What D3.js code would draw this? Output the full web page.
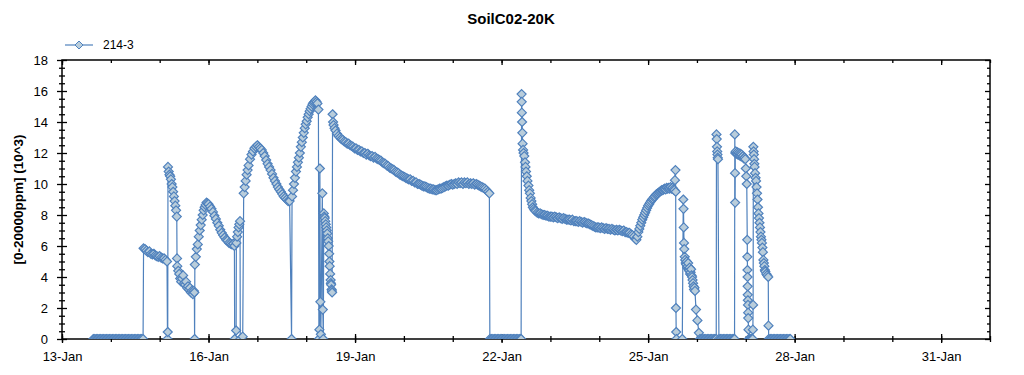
<!DOCTYPE html>
<html>
<head>
<meta charset="utf-8">
<script src="https://cdn.jsdelivr.net/npm/d3@7"></script>
<style>
  body { margin: 0; background: #fff; }
  svg { display: block; font-family: "Liberation Sans", Arial, sans-serif; }
</style>
</head>
<body>
<div id="chart"></div>
<script>
// readings as [days after 13-Jan 00:00, value in 10^3 ppm]
// runs where the sensor read zero, listed by time only
const jan13ZeroTimes = [0.64,0.67,0.70,0.73,0.76,0.79,0.82,0.85,0.88,0.91,0.94,0.97,1.00,1.03,1.06,1.09,1.12,1.15,1.18,1.21,1.24,1.27,1.30,1.33,1.36,1.39,1.42,1.45,1.48,1.51,1.54,1.57,1.60,1.63,1.66];

const jan14Run = [[1.67,5.85],[1.70,5.8],[1.73,5.7],[1.76,5.6],[1.79,5.65],[1.82,5.5],[1.85,5.45],[1.88,5.5],[1.91,5.4],[1.94,5.35],[1.97,5.3],[2.00,5.35],[2.03,5.25],[2.06,5.2],
  [2.09,5.2],[2.12,5.1],[2.15,5.0],[2.16,0],[2.165,0.45],
  [2.17,11.1],[2.185,10.8],[2.20,10.6],[2.215,10.5],[2.23,10.3],[2.245,10.0],[2.26,9.8],[2.275,9.5],[2.29,9.2],[2.305,8.9],[2.32,8.6],[2.335,8.3],[2.35,7.9],
  [2.355,5.2],[2.36,4.7],[2.38,4.4],[2.40,4.2],[2.42,3.9],[2.44,3.7],[2.46,3.9],[2.48,4.1],[2.50,3.6],[2.52,3.5],[2.54,3.7],[2.56,3.3],[2.58,3.4],[2.60,3.2],[2.62,3.3],
  [2.64,3.0],[2.66,3.1],[2.68,2.9],[2.70,3.1],[2.71,3.0],[2.715,0]];

const jan15Run = [[2.72,4.8],[2.74,5.3],[2.76,5.8],[2.78,6.1],[2.80,6.6],[2.82,7.0],[2.84,7.35],[2.86,7.7],[2.88,8.0],[2.90,8.3],[2.92,8.5],[2.94,8.65],[2.96,8.8],[2.98,8.75],
  [3.00,8.7],[3.03,8.55],[3.06,8.4],[3.09,8.2],[3.12,7.95],[3.15,7.75],[3.18,7.5],[3.21,7.3],[3.24,7.05],[3.27,6.85],[3.30,6.7],[3.33,6.55],[3.36,6.4],[3.39,6.35],[3.42,6.2],
  [3.45,6.15],[3.48,6.1],[3.51,6.15],[3.53,6.0],[3.535,0],[3.565,0.55],[3.57,6.2],[3.585,6.6],[3.60,6.9],[3.615,7.2],[3.63,7.4],[3.645,7.6],[3.65,0],[3.70,0.15],[3.72,9.4]];

const jan16Hump = [[3.74,9.8],[3.76,10.2],[3.78,10.6],[3.80,10.9],[3.82,11.2],[3.85,11.6],[3.88,11.9],[3.91,12.1],[3.94,12.3],[3.97,12.4],[4.00,12.5],[4.03,12.4],[4.06,12.3],
  [4.09,12.2],[4.12,12.0],[4.15,11.8],[4.18,11.55],[4.21,11.3],[4.24,11.1],[4.27,10.9],[4.30,10.65],[4.33,10.4],[4.36,10.2],[4.39,10.0],[4.42,9.8],[4.45,9.65],[4.48,9.5],
  [4.51,9.35],[4.54,9.2],[4.57,9.1],[4.60,9.0],[4.63,8.9],[4.66,8.9],[4.70,0],[4.71,9.2],[4.73,9.6],[4.75,10.0],[4.77,10.4],[4.79,10.8],[4.81,11.1],[4.83,11.4],[4.85,11.7],
  [4.87,12.0],[4.89,12.4],[4.91,12.7],[4.93,13.0],[4.95,13.3],[4.97,13.6],[4.99,13.85],[5.01,14.05],[5.03,14.3],[5.05,14.5],[5.07,14.7],[5.09,14.85],[5.11,15.0],[5.13,15.15],
  [5.15,15.25],[5.17,15.3],[5.19,15.4],[5.21,15.3],[5.23,15.2],[5.25,14.8]];

const jan18Drop = [[5.26,0],[5.27,0.6],[5.28,11.0],[5.29,2.4],[5.30,0.3],[5.33,9.4],[5.34,1.9],[5.35,0],[5.36,8.1],[5.37,7.9],[5.38,7.8],[5.39,7.6],[5.40,7.4],[5.41,7.2],
  [5.42,7.0],[5.43,6.8],[5.44,6.5],[5.45,6.3],[5.46,6.0],[5.47,5.5],[5.475,5.0],[5.48,4.7],[5.49,4.2],[5.50,3.8],[5.505,3.6],[5.51,3.5],[5.52,3.2],[5.525,3.1],[5.53,3.0]];

const jan18Decay = [[5.54,14.5],[5.55,14.0],[5.56,13.8],[5.58,13.6],[5.60,13.45],[5.63,13.25],[5.66,13.1],[5.69,13.0],[5.72,12.9],[5.75,12.85],[5.78,12.75],[5.81,12.7],
  [5.84,12.6],[5.87,12.6],[5.90,12.5],[5.93,12.45],[5.96,12.4],[5.99,12.3],[6.02,12.3],[6.05,12.2],[6.08,12.2],[6.11,12.1],[6.14,12.1],[6.17,12.0],[6.20,12.0],[6.23,11.9],
  [6.26,11.95],[6.29,11.85],[6.32,11.8],[6.35,11.8],[6.38,11.7],[6.41,11.75],[6.44,11.65],[6.47,11.6],[6.50,11.55],[6.53,11.5],[6.56,11.4],[6.59,11.35],[6.62,11.3],[6.65,11.2],
  [6.68,11.15],[6.71,11.05],[6.74,11.0],[6.77,10.95],[6.80,10.9],[6.83,10.8],[6.86,10.75],[6.89,10.7],[6.92,10.6],[6.95,10.55],[6.98,10.5],[7.01,10.45],[7.04,10.4],[7.07,10.35],
  [7.10,10.3],[7.13,10.3],[7.16,10.2],[7.19,10.2],[7.22,10.1],[7.25,10.1],[7.28,10.0],[7.31,10.0],[7.34,9.95],[7.37,9.9],[7.40,9.85],[7.43,9.85],[7.46,9.8],[7.49,9.75],
  [7.52,9.7],[7.55,9.7],[7.58,9.65],[7.61,9.65],[7.64,9.6],[7.67,9.6],[7.70,9.65],[7.73,9.7],[7.76,9.7],[7.79,9.75],[7.82,9.8],[7.85,9.85],[7.88,9.9],[7.91,9.9],[7.94,9.95],
  [7.97,10.0],[8.00,9.95],[8.03,10.0],[8.06,10.05],[8.09,10.0],[8.12,10.1],[8.15,10.05],[8.18,10.1],[8.21,10.0],[8.24,10.1],[8.27,10.05],[8.30,10.1],[8.33,10.0],[8.36,10.05],
  [8.39,10.0],[8.42,10.05],[8.45,9.95],[8.48,10.0],[8.51,9.95],[8.54,9.9],[8.57,9.85],[8.60,9.8],[8.63,9.75],[8.66,9.7],[8.69,9.6],[8.72,9.5],[8.75,9.4]];

const jan21ZeroTimes = [8.76,8.79,8.82,8.85,8.88,8.91,8.94,8.97,9.00,9.03,9.06,9.09,9.12,9.15,9.18,9.21,9.24,9.27,9.30,9.33,9.36,9.39,9.40];

const jan22Decay = [[9.41,15.8],[9.412,15.3],[9.415,14.6],[9.42,14.0],[9.425,13.3],[9.43,12.6],[9.44,12.2],[9.45,12.0],[9.465,11.8],[9.48,11.4],[9.49,11.1],[9.50,10.8],
  [9.515,10.5],[9.53,10.2],[9.55,9.9],[9.565,9.6],[9.58,9.4],[9.595,9.1],[9.61,8.9],[9.625,8.7],[9.64,8.5],[9.66,8.4],[9.68,8.3],[9.70,8.25],[9.73,8.15],[9.76,8.1],[9.79,8.1],
  [9.82,8.05],[9.85,8.0],[9.88,8.0],[9.91,7.95],[9.94,7.95],[9.97,7.9],[10.00,7.9],[10.03,7.9],[10.06,7.85],[10.09,7.9],[10.12,7.85],[10.15,7.8],[10.18,7.85],[10.21,7.8],
  [10.24,7.75],[10.27,7.8],[10.30,7.75],[10.33,7.7],[10.36,7.7],[10.39,7.7],[10.42,7.65],[10.45,7.7],[10.48,7.6],[10.51,7.6],[10.54,7.6],[10.57,7.55],[10.60,7.6],[10.63,7.55],
  [10.66,7.5],[10.69,7.55],[10.72,7.5],[10.75,7.45],[10.78,7.45],[10.81,7.4],[10.84,7.35],[10.87,7.3],[10.90,7.25],[10.93,7.2],[10.96,7.2],[10.99,7.2],[11.02,7.15],[11.05,7.2],
  [11.08,7.15],[11.11,7.1],[11.14,7.15],[11.17,7.1],[11.20,7.1],[11.23,7.05],[11.26,7.1],[11.29,7.05],[11.32,7.0],[11.35,7.05],[11.38,7.0],[11.41,7.05],[11.44,7.0],[11.47,6.95],
  [11.50,7.0],[11.53,6.9],[11.56,6.9],[11.59,6.85],[11.62,6.85],[11.65,6.75],[11.68,6.7],[11.71,6.6],[11.74,6.45],[11.76,6.4],[11.78,6.6],[11.80,6.9],[11.82,7.1],[11.84,7.3],
  [11.86,7.5],[11.88,7.7],[11.90,7.85],[11.92,8.0],[11.94,8.15],[11.96,8.3],[11.98,8.45],[12.00,8.6],[12.02,8.7],[12.04,8.8],[12.06,8.9],[12.08,9.0],[12.10,9.05],[12.12,9.15],
  [12.14,9.2],[12.16,9.3],[12.18,9.35],[12.20,9.4],[12.22,9.45],[12.24,9.5],[12.26,9.55],[12.28,9.6],[12.30,9.6],[12.32,9.65],[12.34,9.7],[12.36,9.65],[12.38,9.75],[12.40,9.7],
  [12.42,9.75],[12.44,9.7],[12.46,9.8],[12.48,9.7],[12.50,9.75],[12.52,9.65],[12.54,9.6]];

const jan25Drop = [[12.55,10.25],[12.56,10.9],[12.565,9.5],[12.57,2.0],[12.575,0.45],[12.58,0],[12.70,0],[12.72,9.0],[12.725,8.4],[12.73,7.2],[12.735,6.2],[12.74,5.8],
  [12.75,5.3],[12.76,5.1],[12.77,4.9],[12.78,4.8],[12.79,5.0],[12.80,4.6],[12.81,4.7],[12.82,4.9],[12.83,4.5],[12.84,4.4],[12.85,4.6],[12.86,4.2],[12.87,4.3],[12.88,4.5],
  [12.89,4.1],[12.90,4.0],[12.91,3.8],[12.92,3.6],[12.93,3.4],[12.94,3.2],[12.95,3.3],[12.96,3.1],[12.98,1.9],[13.01,1.2],[13.04,0.4],[13.06,0]];

const jan26Spikes = [[13.09,0],[13.12,0],[13.15,0],[13.18,0],[13.21,0],[13.24,0],[13.27,0],[13.30,0],[13.33,0],[13.36,0],[13.39,0],[13.395,0],
  [13.40,13.2],[13.405,12.9],[13.41,12.4],[13.415,12.1],[13.42,11.9],[13.425,11.7],[13.43,11.6],
  [13.45,0],[13.48,0],[13.51,0],[13.54,0],[13.57,0],[13.60,0],[13.63,0],[13.66,0],[13.69,0],[13.72,0],[13.75,0],[13.77,0],
  [13.775,13.2],[13.78,10.7],[13.782,8.8],[13.785,12.0],[13.795,12.1],[13.81,11.95],[13.825,12.05],[13.84,11.9],[13.855,12.0],[13.87,11.85],[13.885,11.95],[13.90,11.8],
  [13.915,11.9],[13.93,11.75],[13.945,11.8],[13.96,11.65],[13.975,11.7],[13.99,11.6],[14.00,11.0],[14.01,10.5],[14.02,10.0],
  [14.03,6.4],[14.032,5.3],[14.034,4.45],[14.036,4.0],[14.038,3.4],[14.04,2.85],[14.042,2.5],[14.045,2.2],[14.048,1.7],[14.05,1.35],[14.055,0.6],
  [14.06,0],[14.08,0],[14.10,0],[14.12,0],[14.14,0],[14.145,0.6],[14.15,2.2],
  [14.155,12.4],[14.16,12.1],[14.165,11.9],[14.17,11.6],[14.175,11.3],[14.18,11.1],[14.19,10.7],[14.20,10.4],[14.21,10.2],[14.22,9.8],[14.23,9.4],[14.24,9.0],[14.25,8.5],
  [14.26,8.1],[14.27,7.8],[14.28,7.5],[14.29,7.2],[14.30,6.9],[14.31,6.6],[14.32,6.4],[14.33,6.2],[14.34,5.9],[14.35,5.6],[14.36,5.1],[14.37,4.9],[14.38,4.7],[14.39,4.45],
  [14.40,4.35],[14.42,4.2],[14.44,4.1],[14.46,4.0],[14.465,0.86],[14.47,0]];

const jan27ZeroTimes = [14.50,14.53,14.56,14.59,14.62,14.65,14.68,14.71,14.74,14.77,14.80,14.83,14.86,14.89,14.91];

const yTicks = [0, 2, 4, 6, 8, 10, 12, 14, 16, 18];
const seriesName = "214-3";
const chartTitle = "SoilC02-20K";
const yLabel = "[0-20000ppm] (10^3)";

const width = 1024, height = 375;
const plotLeft = 62, plotRight = 990, plotTop = 60, plotBottom = 339;
const blue = "#4f81bd", markFill = "#b9cddb";

const start = new Date(2015, 0, 13);
const end = new Date(2015, 1, 1);
const toDate = d => new Date(start.getTime() + d * 864e5);
const zeros = times => times.map(t => [t, 0]);

const points = [].concat(zeros(jan13ZeroTimes), jan14Run, jan15Run, jan16Hump, jan18Drop, jan18Decay,
  zeros(jan21ZeroTimes), jan22Decay, jan25Drop, jan26Spikes, zeros(jan27ZeroTimes))
  .map(p => ({date: toDate(p[0]), value: p[1]}));

const svg = d3.select("#chart").append("svg")
  .attr("width", width).attr("height", height);

const x = d3.scaleTime().domain([start, end]).range([plotLeft, plotRight]);
const y = d3.scaleLinear().domain([0, 18]).range([plotBottom, plotTop]);

// title
svg.append("text")
  .attr("x", 511).attr("y", 24)
  .attr("text-anchor", "middle")
  .style("font-size", "15px").style("font-weight", "bold")
  .text(chartTitle);

// y axis label
svg.append("text")
  .attr("transform", `translate(23, ${(plotTop + plotBottom) / 2}) rotate(-90)`)
  .attr("text-anchor", "middle")
  .style("font-size", "13.5px").style("font-weight", "bold")
  .text(yLabel);

// major ticks every third day, last one on 31-Jan
const majorDays = d3.timeDay.every(3).range(start, end);
const minorDays = d3.timeDay.range(start, d3.timeDay.offset(end, 1));
const minorY = d3.range(0, 18.01, 0.5).filter(v => v % 2 !== 0);
const fmt = d3.timeFormat("%-d-%b");

function styleAxis(g) {
  g.select(".domain").remove();
  g.selectAll(".tick line").attr("stroke", "#000").attr("stroke-width", 1.3);
  g.selectAll("text").attr("fill", "#000").style("font-size", "13px");
}

// bottom axis: major and minor ticks crossing the line
svg.append("g").attr("transform", `translate(0, ${plotBottom})`)
  .call(d3.axisBottom(x).tickValues(minorDays).tickFormat(""))
  .call(styleAxis)
  .call(g => g.selectAll(".tick line").attr("y1", -3).attr("y2", 3));
svg.append("g").attr("transform", `translate(0, ${plotBottom})`)
  .call(d3.axisBottom(x).tickValues(majorDays).tickFormat(fmt).tickSize(4).tickPadding(9))
  .call(styleAxis)
  .call(g => g.selectAll(".tick line").attr("y1", -5).attr("y2", 4));

// top axis, ticks inside
svg.append("g").attr("transform", `translate(0, ${plotTop})`)
  .call(d3.axisTop(x).tickValues(minorDays).tickFormat("").tickSize(-3))
  .call(styleAxis);
svg.append("g").attr("transform", `translate(0, ${plotTop})`)
  .call(d3.axisTop(x).tickValues(majorDays).tickFormat("").tickSize(-5))
  .call(styleAxis);

// left axis
svg.append("g").attr("transform", `translate(${plotLeft}, 0)`)
  .call(d3.axisLeft(y).tickValues(minorY).tickFormat(""))
  .call(styleAxis)
  .call(g => g.selectAll(".tick line").attr("x1", 3).attr("x2", -3));
svg.append("g").attr("transform", `translate(${plotLeft}, 0)`)
  .call(d3.axisLeft(y).tickValues(yTicks).tickFormat(d3.format("d")).tickSize(5).tickPadding(9))
  .call(styleAxis)
  .call(g => g.selectAll(".tick line").attr("x1", 5).attr("x2", -5));

// right axis, ticks inside
svg.append("g").attr("transform", `translate(${plotRight}, 0)`)
  .call(d3.axisRight(y).tickValues(minorY).tickFormat("").tickSize(-3))
  .call(styleAxis);
svg.append("g").attr("transform", `translate(${plotRight}, 0)`)
  .call(d3.axisRight(y).tickValues(yTicks).tickFormat("").tickSize(-5))
  .call(styleAxis);

// frame
svg.append("rect")
  .attr("x", plotLeft).attr("y", plotTop)
  .attr("width", plotRight - plotLeft).attr("height", plotBottom - plotTop)
  .attr("fill", "none").attr("stroke", "#000").attr("stroke-width", 1.5);

svg.append("clipPath").attr("id", "plot-clip")
  .append("rect").attr("x", plotLeft).attr("y", plotTop - 8)
  .attr("width", plotRight - plotLeft).attr("height", plotBottom - plotTop + 8);

const plot = svg.append("g").attr("clip-path", "url(#plot-clip)");

const line = d3.line().x(d => x(d.date)).y(d => y(d.value));

plot.append("path")
  .datum(points)
  .attr("fill", "none")
  .attr("stroke", blue)
  .attr("stroke-width", 1.2)
  .attr("d", line);

const diamond = "M0,-4.5L4.5,0L0,4.5L-4.5,0Z";

plot.selectAll(".dot")
  .data(points)
  .enter()
  .append("path")
  .attr("class", "dot")
  .attr("d", diamond)
  .attr("transform", d => `translate(${x(d.date)}, ${y(d.value)})`)
  .attr("fill", markFill)
  .attr("stroke", blue)
  .attr("stroke-width", 1.2);

// legend
const legend = svg.append("g").attr("transform", "translate(65, 45)");
legend.append("line")
  .attr("x1", 0).attr("x2", 28)
  .attr("stroke", blue).attr("stroke-width", 1.2);
legend.append("path")
  .attr("d", "M0,-4L4,0L0,4L-4,0Z")
  .attr("transform", "translate(14, 0)")
  .attr("fill", markFill).attr("stroke", blue);
legend.append("text")
  .attr("x", 38).attr("y", 4)
  .style("font-size", "12px")
  .text(seriesName);
</script>
</body>
</html>
